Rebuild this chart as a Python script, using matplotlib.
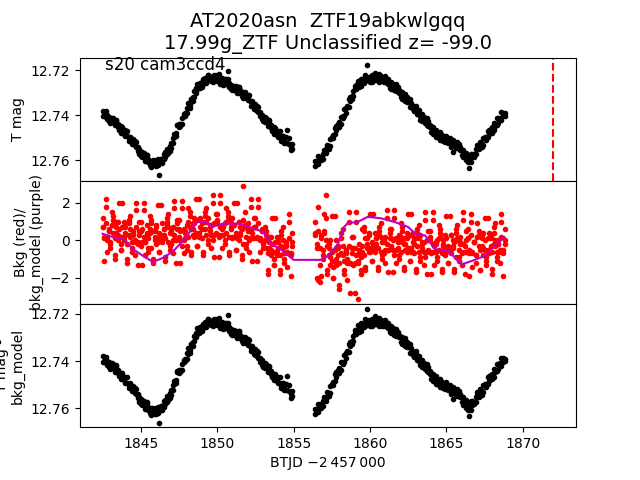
import matplotlib

matplotlib.use("Agg")
import matplotlib.pyplot as plt

TITLE = "AT2020asn  ZTF19abkwlgqq\n17.99g_ZTF Unclassified z= -99.0"
SECTOR_LABEL = "s20 cam3ccd4"
EVENT_TIME = 1872.0

# orbit 1 and orbit 2 cadences (BTJD - 2457000)
time_o1 = [
    1842.5, 1842.6, 1842.7, 1842.8, 1842.9, 1843.0, 1843.1, 1843.2, 1843.3, 1843.4,
    1843.5, 1843.6, 1843.7, 1843.8, 1843.9, 1844.0, 1844.1, 1844.2, 1844.3, 1844.4,
    1844.5, 1844.6, 1844.7, 1844.8, 1844.9, 1845.0, 1845.1, 1845.2, 1845.3, 1845.4,
    1845.5, 1845.6, 1845.7, 1845.8, 1845.9, 1846.0, 1846.1, 1846.2, 1846.3, 1846.4,
    1846.5, 1846.6, 1846.7, 1846.8, 1846.9, 1847.0, 1847.1, 1847.2, 1847.3, 1847.4,
    1847.5, 1847.6, 1847.7, 1847.8, 1847.9, 1848.0, 1848.1, 1848.2, 1848.3, 1848.4,
    1848.5, 1848.6, 1848.7, 1848.8, 1848.9, 1849.0, 1849.1, 1849.2, 1849.3, 1849.4,
    1849.5, 1849.6, 1849.7, 1849.8, 1849.9, 1850.0, 1850.1, 1850.2, 1850.3, 1850.4,
    1850.5, 1850.6, 1850.7, 1850.8, 1850.9, 1851.0, 1851.1, 1851.2, 1851.3, 1851.4,
    1851.5, 1851.6, 1851.7, 1851.8, 1851.9, 1852.0, 1852.1, 1852.2, 1852.3, 1852.4,
    1852.5, 1852.6, 1852.7, 1852.8, 1852.9, 1853.0, 1853.1, 1853.2, 1853.3, 1853.4,
    1853.5, 1853.6, 1853.7, 1853.8, 1853.9, 1854.0, 1854.1, 1854.2, 1854.3, 1854.4,
    1854.5, 1854.6, 1854.7, 1854.8, 1854.9,
]
time_o2 = [
    1856.4, 1856.5, 1856.6, 1856.7, 1856.8, 1856.9, 1857.0, 1857.1, 1857.2, 1857.3,
    1857.4, 1857.5, 1857.6, 1857.7, 1857.8, 1857.9, 1858.0, 1858.1, 1858.2, 1858.3,
    1858.4, 1858.5, 1858.6, 1858.7, 1858.8, 1858.9, 1859.0, 1859.1, 1859.2, 1859.3,
    1859.4, 1859.5, 1859.6, 1859.7, 1859.8, 1859.9, 1860.0, 1860.1, 1860.2, 1860.3,
    1860.4, 1860.5, 1860.6, 1860.7, 1860.8, 1860.9, 1861.0, 1861.1, 1861.2, 1861.3,
    1861.4, 1861.5, 1861.6, 1861.7, 1861.8, 1861.9, 1862.0, 1862.1, 1862.2, 1862.3,
    1862.4, 1862.5, 1862.6, 1862.7, 1862.8, 1862.9, 1863.0, 1863.1, 1863.2, 1863.3,
    1863.4, 1863.5, 1863.6, 1863.7, 1863.8, 1863.9, 1864.0, 1864.1, 1864.2, 1864.3,
    1864.4, 1864.5, 1864.6, 1864.7, 1864.8, 1864.9, 1865.0, 1865.1, 1865.2, 1865.3,
    1865.4, 1865.5, 1865.6, 1865.7, 1865.8, 1865.9, 1866.0, 1866.1, 1866.2, 1866.3,
    1866.4, 1866.5, 1866.6, 1866.7, 1866.8, 1866.9, 1867.0, 1867.1, 1867.2, 1867.3,
    1867.4, 1867.5, 1867.6, 1867.7, 1867.8, 1867.9, 1868.0, 1868.1, 1868.2, 1868.3,
    1868.4, 1868.5, 1868.6, 1868.7, 1868.8,
]

# T mag, two samples per plotted cadence
tmag_a_o1 = [
    12.7404, 12.7384, 12.7406, 12.7400, 12.7427, 12.7413, 12.7431, 12.7412, 12.7431, 12.7419,
    12.7450, 12.7464, 12.7449, 12.7460, 12.7482, 12.7466, 12.7492, 12.7514, 12.7496, 12.7511,
    12.7529, 12.7514, 12.7541, 12.7541, 12.7573, 12.7563, 12.7585, 12.7569, 12.7588, 12.7576,
    12.7607, 12.7621, 12.7601, 12.7606, 12.7623, 12.7600, 12.7620, 12.7664, 12.7593, 12.7593,
    12.7595, 12.7564, 12.7574, 12.7549, 12.7557, 12.7524, 12.7523, 12.7484, 12.7480, 12.7444,
    12.7453, 12.7446, 12.7412, 12.7404, 12.7402, 12.7366, 12.7369, 12.7368, 12.7328, 12.7320,
    12.7317, 12.7280, 12.7285, 12.7262, 12.7277, 12.7253, 12.7262, 12.7234, 12.7241, 12.7220,
    12.7243, 12.7248, 12.7225, 12.7228, 12.7245, 12.7223, 12.7243, 12.7259, 12.7237, 12.7247,
    12.7261, 12.7240, 12.7203, 12.7257, 12.7285, 12.7270, 12.7289, 12.7271, 12.7287, 12.7273,
    12.7302, 12.7314, 12.7296, 12.7305, 12.7324, 12.7308, 12.7334, 12.7357, 12.7339, 12.7355,
    12.7374, 12.7359, 12.7387, 12.7386, 12.7418, 12.7407, 12.7429, 12.7414, 12.7434, 12.7423,
    12.7455, 12.7469, 12.7454, 12.7465, 12.7486, 12.7469, 12.7494, 12.7514, 12.7493, 12.7506,
    12.7522, 12.7464, 12.7527, 12.7556, 12.7549,
]
tmag_b_o1 = [
    12.7380, 12.7404, 12.7382, 12.7417, 12.7406, 12.7433, 12.7410, 12.7425, 12.7445, 12.7420,
    12.7437, 12.7457, 12.7477, 12.7452, 12.7471, 12.7492, 12.7468, 12.7500, 12.7495, 12.7528,
    12.7505, 12.7534, 12.7517, 12.7558, 12.7552, 12.7583, 12.7564, 12.7582, 12.7602, 12.7577,
    12.7594, 12.7614, 12.7629, 12.7598, 12.7612, 12.7626, 12.7596, 12.7613, 12.7592, 12.7610,
    12.7571, 12.7584, 12.7550, 12.7566, 12.7536, 12.7544, 12.7502, 12.7497, 12.7494, 12.7445,
    12.7440, 12.7439, 12.7440, 12.7396, 12.7391, 12.7392, 12.7345, 12.7354, 12.7327, 12.7337,
    12.7293, 12.7300, 12.7261, 12.7279, 12.7256, 12.7273, 12.7241, 12.7247, 12.7255, 12.7221,
    12.7230, 12.7241, 12.7253, 12.7220, 12.7234, 12.7249, 12.7219, 12.7245, 12.7236, 12.7264,
    12.7237, 12.7260, 12.7239, 12.7274, 12.7264, 12.7290, 12.7268, 12.7284, 12.7301, 12.7274,
    12.7289, 12.7307, 12.7324, 12.7297, 12.7313, 12.7334, 12.7310, 12.7343, 12.7338, 12.7372,
    12.7350, 12.7379, 12.7363, 12.7403, 12.7397, 12.7427, 12.7408, 12.7427, 12.7448, 12.7424,
    12.7442, 12.7462, 12.7482, 12.7457, 12.7475, 12.7495, 12.7470, 12.7500, 12.7492, 12.7523,
    12.7498, 12.7524, 12.7503, 12.7539, 12.7528,
]
tmag_a_o2 = [
    12.7604, 12.7609, 12.7582, 12.7600, 12.7600, 12.7570, 12.7567, 12.7568, 12.7531, 12.7535,
    12.7535, 12.7496, 12.7489, 12.7485, 12.7448, 12.7452, 12.7428, 12.7437, 12.7405, 12.7405,
    12.7366, 12.7362, 12.7326, 12.7335, 12.7327, 12.7292, 12.7283, 12.7284, 12.7247, 12.7261,
    12.7271, 12.7241, 12.7244, 12.7250, 12.7179, 12.7240, 12.7229, 12.7251, 12.7230, 12.7243,
    12.7221, 12.7234, 12.7216, 12.7242, 12.7250, 12.7229, 12.7237, 12.7257, 12.7239, 12.7263,
    12.7282, 12.7262, 12.7275, 12.7292, 12.7275, 12.7300, 12.7297, 12.7327, 12.7315, 12.7336,
    12.7320, 12.7339, 12.7328, 12.7360, 12.7374, 12.7360, 12.7371, 12.7394, 12.7378, 12.7404,
    12.7426, 12.7408, 12.7423, 12.7442, 12.7427, 12.7454, 12.7453, 12.7485, 12.7475, 12.7496,
    12.7476, 12.7492, 12.7476, 12.7504, 12.7515, 12.7496, 12.7504, 12.7522, 12.7502, 12.7525,
    12.7562, 12.7521, 12.7532, 12.7547, 12.7527, 12.7554, 12.7553, 12.7585, 12.7575, 12.7598,
    12.7584, 12.7633, 12.7570, 12.7586, 12.7584, 12.7551, 12.7546, 12.7552, 12.7519, 12.7528,
    12.7533, 12.7498, 12.7496, 12.7497, 12.7464, 12.7473, 12.7454, 12.7467, 12.7439, 12.7444,
    12.7412, 12.7415, 12.7387, 12.7404, 12.7402,
]
tmag_b_o2 = [
    12.7626, 12.7604, 12.7618, 12.7584, 12.7588, 12.7593, 12.7554, 12.7551, 12.7551, 12.7550,
    12.7504, 12.7503, 12.7502, 12.7456, 12.7467, 12.7440, 12.7451, 12.7406, 12.7413, 12.7373,
    12.7388, 12.7357, 12.7362, 12.7319, 12.7315, 12.7315, 12.7270, 12.7267, 12.7267, 12.7276,
    12.7240, 12.7248, 12.7257, 12.7221, 12.7243, 12.7228, 12.7252, 12.7220, 12.7238, 12.7211,
    12.7243, 12.7229, 12.7252, 12.7226, 12.7238, 12.7252, 12.7224, 12.7240, 12.7259, 12.7278,
    12.7251, 12.7269, 12.7288, 12.7263, 12.7294, 12.7288, 12.7320, 12.7296, 12.7323, 12.7304,
    12.7342, 12.7334, 12.7364, 12.7344, 12.7362, 12.7383, 12.7358, 12.7377, 12.7398, 12.7419,
    12.7395, 12.7415, 12.7436, 12.7413, 12.7446, 12.7442, 12.7476, 12.7454, 12.7483, 12.7464,
    12.7498, 12.7487, 12.7512, 12.7488, 12.7503, 12.7519, 12.7491, 12.7505, 12.7522, 12.7540,
    12.7512, 12.7528, 12.7545, 12.7518, 12.7546, 12.7542, 12.7576, 12.7554, 12.7583, 12.7566,
    12.7606, 12.7593, 12.7606, 12.7570, 12.7572, 12.7574, 12.7533, 12.7535, 12.7539, 12.7543,
    12.7502, 12.7505, 12.7509, 12.7468, 12.7483, 12.7461, 12.7477, 12.7436, 12.7447, 12.7412,
    12.7434, 12.7410, 12.7423, 12.7388, 12.7390,
]

# background flux, three samples per plotted cadence
bkg_a_o1 = [
    1.2, 0.1, 1.8, -0.6, 0.6, -0.2, 0.8, 1.3, -1.0, 0.4, 1.0, 0.2, -0.5, 2.0, 0.0, 0.7,
    -1.0, 0.9, 1.3, -0.6, 0.3, -0.1, 2.0, -1.3, 0.5, 1.0, -0.1, 1.6, -0.8, 0.4, -0.4, 0.6,
    1.1, -1.2, 0.2, 0.8,
    0.1, -0.6, 1.9, -0.1, 0.6, -0.9, 1.0, 1.4, -0.5, 0.4, 0.0, 2.1, -1.2, 0.6, 1.1, 0.0,
    1.7, -0.7, 0.5, -0.3,
    1.0, 1.5, -0.8, 0.6, 1.2, 0.4, -0.3, 2.2, 0.2, 0.9, -0.6, 1.3, 1.7, -0.2, 0.7, 0.3,
    2.4, -0.9, 0.9, 1.4, 0.3, 2.0, -0.4, 0.8, 0.0, 1.0, 1.5, -0.8, 0.6, 1.2,
    0.2, -0.5, 2.0, 0.0, 0.7, -0.8, 1.1, 1.5, -0.4, 0.5, 0.1, 2.2, -1.1, 0.7, 1.2, 0.1,
    1.8, -0.6, 0.6, -0.2,
    0.0, 0.5, -1.8, -0.4, 0.2, -0.6, -1.3, 1.2, -0.8, -0.1, -1.6, 0.3, 0.7, -1.2, -0.3,
    -0.7, 1.4, -1.9, -0.1,
]
bkg_b_o1 = [
    0.7, -1.1, 2.2, 0.1, 0.5, -0.4, 1.5, 1.1, -0.8, 0.7, 0.0, 2.0, -0.5, 0.2, 1.0, 0.4,
    -1.2, 1.1, 0.6, -0.4, 0.4, -0.8, 1.6, -0.1, 1.0, 0.5, -1.3, 2.0, -0.1, 0.3, -0.6, 1.3,
    0.9, -1.0, 0.5, -0.2,
    1.9, -0.6, 0.1, 0.9, 0.3, -1.1, 1.2, 0.7, -0.3, 0.5, -0.7, 1.7, 0.0, 1.1, 0.6, -1.2,
    2.1, 0.0, 0.4, -0.5,
    1.7, 1.3, -0.6, 0.9, 0.2, 2.2, -0.3, 0.4, 1.2, 0.6, -0.8, 1.5, 1.0, 0.0, 0.8, -0.4,
    2.0, 0.3, 1.4, 0.9, -0.9, 2.4, 0.3, 0.7, -0.2, 1.7, 1.3, -0.6, 0.9, 0.2,
    2.0, -0.5, 0.2, 1.0, 0.4, -1.0, 2.9, 0.8, -0.2, 0.6, -0.6, 1.8, 0.1, 1.2, 0.7, -1.1,
    2.2, 0.1, 0.5, -0.4,
    0.7, 0.3, -1.6, -0.1, -0.8, 1.2, -1.3, -0.6, 0.2, -0.4, -1.8, 0.5, 0.0, -1.0, -0.2,
    -1.4, 1.0, -0.7, 0.4,
]
bkg_c_o1 = [
    0.7, 0.2, 0.9, 0.0, 0.5, -0.1, 0.8, 0.4, 0.1, 1.0, 0.3, 0.6, -0.2, 0.7, 0.2, 0.9,
    -0.2, 0.3, 0.2, -0.1, 0.5, 0.0, 0.7, -0.2, 0.3, -0.3, 0.6, 0.2, -0.1, 0.8, 0.1, 0.4,
    -0.4, 0.5, 0.0, 0.7,
    -0.1, 0.4, 0.3, 0.0, 0.6, 0.1, 0.8, -0.1, 0.4, -0.2, 0.7, 0.3, 0.0, 0.9, 0.2, 0.5,
    -0.3, 0.6, 0.1, 0.8,
    0.2, 0.7, 0.6, 0.3, 0.9, 0.4, 1.1, 0.2, 0.7, 0.1, 1.0, 0.6, 0.3, 1.2, 0.5, 0.8,
    0.0, 0.9, 0.4, 1.1, 0.2, 0.7, 0.6, 0.3, 0.9, 0.4, 1.1, 0.2, 0.7, 0.1,
    0.8, 0.4, 0.1, 1.0, 0.3, 0.6, -0.2, 0.7, 0.2, 0.9, 0.0, 0.5, 0.4, 0.1, 0.7, 0.2,
    0.9, 0.0, 0.5, -0.1,
    0.0, -0.4, -0.7, 0.2, -0.5, -0.2, -1.0, -0.1, -0.6, 0.1, -0.8, -0.3, -0.4, -0.7,
    -0.1, -0.6, 0.1, -0.8, -0.3,
]
bkg_a_o2 = [
    1.0, -0.4, 1.8, -1.3, 0.3, -0.8, 0.5, 1.2, -1.8,
    -0.8, 0.0, -1.1, -2.0, 1.3, -1.3, -0.4, -2.4, 0.1, 0.6, -1.8, -0.7, -1.2, 1.5, -2.8,
    -0.4, 0.2, -1.2, 1.0, -3.1, -0.5, -1.6, -0.3,
    0.7, -1.6, -0.2, 0.4, -0.4, -1.1, 1.4, -0.6, 0.1, -1.4, 0.5, 0.9, -1.0, -0.1, -0.5,
    1.6, -1.7, 0.1, 0.6, -0.5, 1.2, -1.2, 0.0, -0.8, 0.2, 0.7, -1.6, -0.2, 0.4, -0.4,
    -1.1, 1.4, -0.6, 0.1,
    -1.5, 0.4, 0.8, -1.1, -0.2, -0.6, 1.5, -1.8, 0.0,
    0.5, -0.6, 1.1, -1.3, -0.1, -0.9, 0.1, 0.6, -1.7, -0.3, 0.3, -0.5, -1.2, 1.3, -0.7,
    0.0, -1.5, 0.4, 0.8, -1.1, -0.2, -0.6, 1.5, -1.8, 0.0,
    0.6, -0.7, 1.0, -1.4, -0.1, -0.8, 0.2, 0.5, -1.6, -0.3, 0.4, -0.5, -1.3, 1.2, -0.7,
    0.1, -1.5, 0.4, 0.9, -1.1, -0.2, -0.6, 1.4, -1.9, 0.0,
]
bkg_b_o2 = [
    0.4, -2.0, -2.1, -2.2, -1.9, -1.0, 1.4, 2.4, -1.6,
    -0.4, -1.3, 1.3, -2.0, -1.1, 0.0, -0.8, -2.6, 0.4, -0.3, -1.6, -0.5, -2.1, 1.0, -1.2,
    0.2, -0.4, -2.8, 1.5, -1.2, -0.7, -1.8, 0.6,
    0.5, -1.4, 0.1, -0.6, 1.4, -1.1, -0.4, 0.4, -0.2, -1.6, 0.7, 0.2, -0.8, 0.0, -1.2,
    1.2, -0.5, 0.6, 0.1, -1.7, 1.6, -0.5, -0.1, -1.0, 0.9, 0.5, -1.4, 0.1, -0.6, 1.4,
    -1.1, -0.4, 0.4, -0.2,
    -1.7, 0.6, 0.1, -0.9, -0.1, -1.3, 1.1, -0.6, 0.5,
    0.0, -1.8, 1.5, -0.6, -0.2, -1.1, 0.8, 0.4, -1.5, 0.0, -0.7, 1.3, -1.2, -0.5, 0.3,
    -0.3, -1.7, 0.6, 0.1, -0.9, -0.1, -1.3, 1.1, -0.6, 0.5,
    0.1, -1.9, 1.4, -0.6, -0.1, -1.2, 0.9, 0.3, -1.6, 0.1, -0.8, 1.2, -1.1, -0.5, 0.4,
    -0.3, -1.8, 0.7, 0.0, -0.9, -0.2, -1.2, 1.0, -0.5, 0.6,
]
bkg_c_o2 = [
    0.3, -0.2, 0.5, -0.4, 0.1, -0.5, 0.4, 0.0, -0.3,
    -0.2, -0.9, -0.6, -1.4, -0.5, -1.0, -0.3, -1.2, -0.7, -0.8, -1.1,
    -0.5, -1.0, -0.3, -1.2, -0.7, -1.3, -0.4, -0.8, -1.1, -0.2, -0.9, -0.6,
    -0.8, 0.1, -0.4, 0.3, -0.6, -0.1, -0.2, -0.5,
    0.1, -0.4, 0.3, -0.6, -0.1, -0.7, 0.2, -0.2, -0.5, 0.4, -0.3, 0.0, -0.8, 0.1, -0.4,
    0.3, -0.6, -0.1, -0.2, -0.5,
    0.1, -0.4, 0.3, -0.6, -0.1, -0.7,
    0.1, -0.3, -0.6, 0.3, -0.4, -0.1, -0.9, 0.0, -0.5, 0.2, -0.7, -0.2, -0.3, -0.6,
    0.0, -0.5, 0.2, -0.7, -0.2, -0.8, 0.1, -0.3, -0.6, 0.3, -0.4, -0.1, -0.9, 0.0, -0.5,
    0.2, -0.7, -0.2, -0.3, -0.6,
    0.1, -0.5, 0.3, -0.7, -0.1, -0.8, 0.2, -0.3, -0.5, 0.3, -0.4, 0.0, -0.9, 0.1, -0.5,
    0.2, -0.6, -0.2, -0.3, -0.6,
    0.0, -0.5, 0.2, -0.7, -0.2,
]

# smoothed background model
model_time = [
    1842.5, 1843.2, 1843.85, 1844.5, 1845.15, 1845.8, 1846.5, 1847.15, 1847.8, 1848.45,
    1848.7, 1849.3, 1849.65, 1850.4, 1851.5, 1852.4, 1853.05, 1853.5, 1854.15, 1855.0,
    1856.8, 1857.25, 1857.9, 1858.3, 1858.55, 1859.2, 1859.85, 1860.75, 1861.6, 1862.5,
    1862.95, 1863.6, 1864.25, 1865.1, 1866.0, 1866.65, 1867.5, 1868.2, 1868.8,
]
model_bkg = [
    0.35, 0.17, 0.08, -0.47, -0.83, -1.15, -0.92, -0.55, 0.0, 0.71,
    0.98, 0.98, 0.71, 0.89, 0.89, 0.62, 0.44, -0.19, -0.47, -1.04,
    -1.04, -0.83, -0.19, 0.71, 0.92, 0.98, 1.25, 1.17, 0.98, 0.71,
    0.35, 0.26, -0.47, -0.55, -1.28, -1.1, -0.83, -0.28, 0.17,
]

fig, (ax1, ax2, ax3) = plt.subplots(3, 1, sharex=True)
plt.subplots_adjust(hspace=0)

ax1.set_title(TITLE, fontsize=14)
for t, a, b in [(time_o1, tmag_a_o1, tmag_b_o1), (time_o2, tmag_a_o2, tmag_b_o2)]:
    ax1.plot(t, a, "k.")
    ax1.plot(t, b, "k.")
ax1.axvline(EVENT_TIME, color="r", ls="--")
ax1.set_ylim(12.7691, 12.7144)
ax1.set_yticks([12.72, 12.74, 12.76])
ax1.set_ylabel("T mag")
ax1.text(0.05, 0.9, SECTOR_LABEL, transform=ax1.transAxes, fontsize=12)

for t, bkgs in [(time_o1, (bkg_a_o1, bkg_b_o1, bkg_c_o1)),
                (time_o2, (bkg_a_o2, bkg_b_o2, bkg_c_o2))]:
    for b in bkgs:
        ax2.plot(t, b, "r.")
ax2.plot(model_time, model_bkg, "m-")
ax2.set_ylim(-3.39, 3.17)
ax2.set_yticks([-2, 0, 2])
ax2.set_ylabel("Bkg (red)/\nbkg_model (purple)")

# background-corrected light curve is indistinguishable from the raw one here
for t, a, b in [(time_o1, tmag_a_o1, tmag_b_o1), (time_o2, tmag_a_o2, tmag_b_o2)]:
    ax3.plot(t, a, "k.")
    ax3.plot(t, b, "k.")
ax3.set_ylim(12.7681, 12.7158)
ax3.set_yticks([12.72, 12.74, 12.76])
ax3.set_ylabel("T mag -\nbkg_model")
ax3.set_xticks([1845, 1850, 1855, 1860, 1865, 1870])
ax3.set_xlabel("BTJD \u22122\u2009457\u2009000")

fig.savefig("out.png")
